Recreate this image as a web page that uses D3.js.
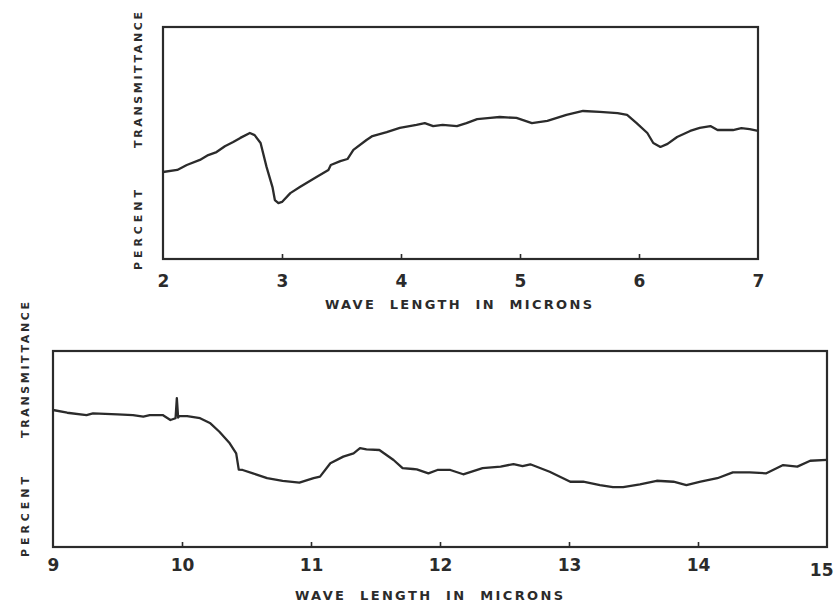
<!DOCTYPE html>
<html>
<head>
<meta charset="utf-8">
<script src="https://cdn.jsdelivr.net/npm/d3@7"></script>
<style>
  body { margin: 0; background: #fff; }
  svg text { font-family: "DejaVu Sans", "Liberation Sans", sans-serif; fill: #2b2b2b; }
</style>
</head>
<body>
<svg width="835" height="604"></svg>
<script>
// upper spectrum, 2-7 microns
var topWave = [2.0, 2.12, 2.2, 2.31, 2.38, 2.45, 2.52, 2.59, 2.65, 2.73, 2.77, 2.82, 2.87, 2.92, 2.94, 2.97, 3.0, 3.07, 3.15, 3.22, 3.29, 3.39, 3.41, 3.49, 3.55, 3.6, 3.71, 3.76, 3.88, 3.99, 4.13, 4.2, 4.27, 4.35, 4.47, 4.55, 4.64, 4.75, 4.83, 4.97, 5.1, 5.23, 5.39, 5.53, 5.67, 5.82, 5.9, 5.98, 6.07, 6.12, 6.18, 6.24, 6.32, 6.43, 6.51, 6.6, 6.66, 6.79, 6.86, 6.93, 7.0];
var topTrans = [37.5, 38.4, 40.5, 42.7, 44.8, 46.1, 48.6, 50.4, 52.2, 54.3, 53.4, 50.0, 39.7, 31.0, 25.4, 24.1, 24.6, 28.4, 31.0, 33.2, 35.3, 38.4, 40.5, 42.2, 43.1, 47.0, 51.3, 53.0, 54.7, 56.5, 57.8, 58.6, 57.3, 57.8, 57.3, 58.6, 60.3, 60.8, 61.2, 60.8, 58.6, 59.5, 62.1, 63.8, 63.4, 62.9, 62.1, 58.6, 54.3, 50.0, 48.3, 49.6, 52.6, 55.2, 56.5, 57.3, 55.6, 55.6, 56.4, 56.0, 55.2];
var topTicks = [2, 3, 4, 5, 6, 7];

// lower spectrum, 9-15 microns
var lowWave = [9.0, 9.11, 9.26, 9.31, 9.5, 9.62, 9.7, 9.75, 9.85, 9.91, 9.95, 9.96, 9.97, 9.98, 10.04, 10.14, 10.22, 10.29, 10.37, 10.42, 10.44, 10.47, 10.55, 10.66, 10.78, 10.91, 11.02, 11.07, 11.15, 11.25, 11.33, 11.38, 11.43, 11.53, 11.64, 11.71, 11.79, 11.82, 11.91, 11.98, 12.08, 12.18, 12.33, 12.47, 12.57, 12.64, 12.7, 12.85, 13.01, 13.11, 13.24, 13.34, 13.42, 13.55, 13.68, 13.81, 13.91, 14.02, 14.15, 14.27, 14.4, 14.53, 14.66, 14.77, 14.87, 15.0];
var lowTrans = [69.9, 68.5, 67.3, 68.2, 67.7, 67.3, 66.5, 67.3, 67.3, 64.8, 65.7, 76.0, 66.0, 66.8, 66.8, 65.7, 63.1, 58.8, 52.9, 47.8, 39.5, 39.3, 37.6, 35.1, 33.7, 32.8, 35.1, 35.9, 42.7, 46.1, 47.8, 50.4, 49.8, 49.5, 44.4, 40.2, 39.8, 39.6, 37.6, 39.3, 39.3, 37.1, 40.2, 41.0, 42.3, 41.3, 42.2, 38.4, 33.3, 33.3, 31.6, 30.5, 30.5, 32.0, 33.8, 33.3, 31.6, 33.3, 35.1, 38.1, 38.1, 37.6, 41.8, 41.0, 44.0, 44.4];
var lowTicks = [9, 10, 11, 12, 13, 14, 15];

var svg = d3.select("svg");
var ink = "#2b2b2b";

function panel(o) {
  var x = d3.scaleLinear().domain(o.domain).range([o.left, o.right]);
  var y = d3.scaleLinear().domain([0, 100]).range([o.bottom, o.top]);
  var g = svg.append("g");

  // frame
  g.append("rect")
    .attr("x", o.left).attr("y", o.top)
    .attr("width", o.right - o.left).attr("height", o.bottom - o.top)
    .attr("fill", "none").attr("stroke", ink).attr("stroke-width", 2.2);

  // axis with inward ticks
  var ax = g.append("g")
    .attr("transform", "translate(0," + o.bottom + ")")
    .call(d3.axisBottom(x).tickValues(o.ticks).tickSizeInner(-5).tickSizeOuter(0).tickFormat(d3.format("d")));
  ax.select(".domain").remove();
  ax.selectAll(".tick line").attr("stroke", ink).attr("stroke-width", 1.6)
    .attr("opacity", function(d) { return d === o.domain[0] || d === o.domain[1] ? 0 : 1; });
  ax.selectAll(".tick text")
    .attr("y", o.labelDy).attr("dy", "0.71em")
    .style("font-size", "17px").style("font-weight", "bold")
    .attr("fill", ink);
  if (o.lastEnd) {
    ax.selectAll(".tick text").filter(function(d) { return d === o.domain[1]; })
      .attr("text-anchor", "end").attr("x", 6).attr("y", o.labelDy + 5);
  }

  // spectrum trace
  var pts = d3.zip(o.wave, o.trans);
  g.append("path")
    .datum(pts)
    .attr("fill", "none").attr("stroke", ink).attr("stroke-width", 2.3)
    .attr("stroke-linejoin", "round")
    .attr("d", d3.line().x(function(d) { return x(d[0]); }).y(function(d) { return y(d[1]); }));

  // x title
  g.append("text")
    .attr("x", o.titleX).attr("y", o.titleY)
    .attr("textLength", o.titleW).attr("lengthAdjust", "spacing")
    .style("font-size", "13px").style("font-weight", "bold").style("white-space", "pre")
    .text("WAVE  LENGTH  IN  MICRONS");

  // y title pieces
  [["TRANSMITTANCE", o.tCy, 136], ["PERCENT", o.pCy, 80]].forEach(function(t) {
    g.append("text")
      .attr("transform", "translate(" + o.yLabX + "," + t[1] + ") rotate(-90)")
      .attr("x", -t[2] / 2).attr("y", 0)
      .attr("textLength", t[2]).attr("lengthAdjust", "spacing")
      .style("font-size", "11px").style("font-weight", "bold")
      .text(t[0]);
  });
}

panel({
  domain: [2, 7], left: 163, right: 758, top: 27, bottom: 259,
  ticks: topTicks, wave: topWave, trans: topTrans, labelDy: 16,
  titleX: 325, titleY: 309, titleW: 267,
  yLabX: 142, tCy: 80, pCy: 230
});

panel({
  domain: [9, 15], left: 53, right: 827, top: 351, bottom: 547,
  ticks: lowTicks, wave: lowWave, trans: lowTrans, labelDy: 12, lastEnd: true,
  titleX: 295, titleY: 600, titleW: 268,
  yLabX: 29, tCy: 370, pCy: 517
});
</script>
</body>
</html>
